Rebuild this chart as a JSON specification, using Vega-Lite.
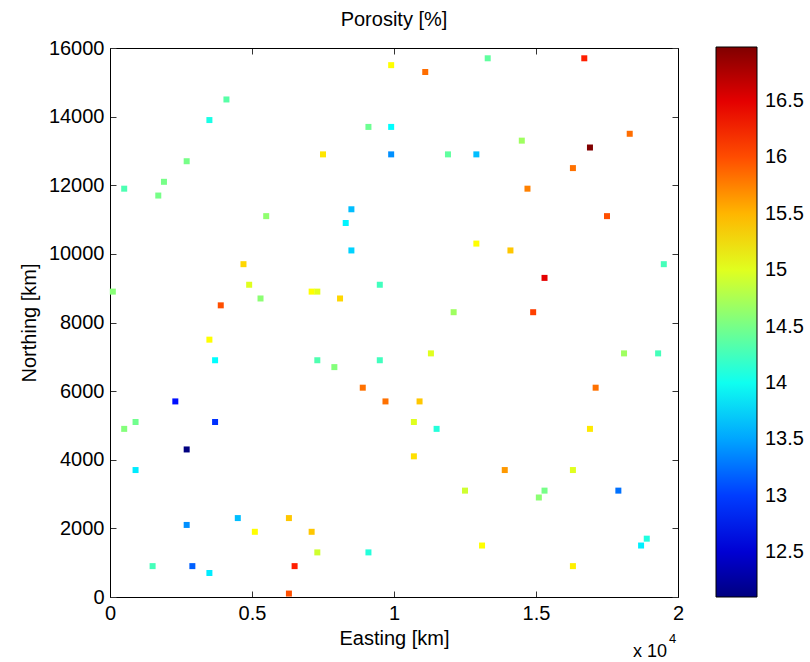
{
  "$schema": "https://vega.github.io/schema/vega-lite/v6.json",
  "autosize": "none",
  "width": 568,
  "height": 549,
  "padding": {"left": 110, "top": 48, "right": 132, "bottom": 65},
  "title": {"text": "Porosity [%]", "fontSize": 20, "fontWeight": "normal", "color": "#000", "offset": 8},
  "config": {
    "font": "Liberation Sans",
    "view": {"stroke": null},
    "axis": {
      "domainColor": "#000", "domainWidth": 1, "tickColor": "#333", "tickSize": -6, "tickWidth": 1,
      "labelFontSize": 20, "labelColor": "#000", "titleFontSize": 20, "titleFontWeight": "normal",
      "titleColor": "#000", "grid": false, "labelFlush": false, "labelOverlap": false, "labelPadding": 12
    }
  },
  "data": {"values": [
    {"easting": 9900, "northing": 15500, "porosity": 15.15},
    {"easting": 11100, "northing": 15300, "porosity": 15.85},
    {"easting": 13300, "northing": 15700, "porosity": 14.39},
    {"easting": 16700, "northing": 15700, "porosity": 16.22},
    {"easting": 4100, "northing": 14500, "porosity": 14.35},
    {"easting": 3500, "northing": 13900, "porosity": 14.05},
    {"easting": 9100, "northing": 13700, "porosity": 14.45},
    {"easting": 9900, "northing": 13700, "porosity": 13.93},
    {"easting": 14500, "northing": 13300, "porosity": 14.69},
    {"easting": 16900, "northing": 13100, "porosity": 16.98},
    {"easting": 18300, "northing": 13500, "porosity": 15.85},
    {"easting": 2700, "northing": 12700, "porosity": 14.5},
    {"easting": 7500, "northing": 12900, "porosity": 15.27},
    {"easting": 9900, "northing": 12900, "porosity": 13.4},
    {"easting": 11900, "northing": 12900, "porosity": 14.39},
    {"easting": 12900, "northing": 12900, "porosity": 13.62},
    {"easting": 16300, "northing": 12500, "porosity": 15.83},
    {"easting": 14700, "northing": 11900, "porosity": 15.76},
    {"easting": 17500, "northing": 11100, "porosity": 15.99},
    {"easting": 500, "northing": 11900, "porosity": 14.3},
    {"easting": 1900, "northing": 12100, "porosity": 14.5},
    {"easting": 1700, "northing": 11700, "porosity": 14.5},
    {"easting": 5500, "northing": 11100, "porosity": 14.62},
    {"easting": 8500, "northing": 11300, "porosity": 13.62},
    {"easting": 8300, "northing": 10900, "porosity": 13.88},
    {"easting": 8500, "northing": 10100, "porosity": 13.72},
    {"easting": 4700, "northing": 9700, "porosity": 15.34},
    {"easting": 4900, "northing": 9100, "porosity": 15.0},
    {"easting": 100, "northing": 8900, "porosity": 14.58},
    {"easting": 3900, "northing": 8500, "porosity": 15.99},
    {"easting": 5300, "northing": 8700, "porosity": 14.6},
    {"easting": 7100, "northing": 8900, "porosity": 15.15},
    {"easting": 7300, "northing": 8900, "porosity": 15.02},
    {"easting": 8100, "northing": 8700, "porosity": 15.34},
    {"easting": 9500, "northing": 9100, "porosity": 14.24},
    {"easting": 12900, "northing": 10300, "porosity": 15.15},
    {"easting": 14100, "northing": 10100, "porosity": 15.42},
    {"easting": 19500, "northing": 9700, "porosity": 14.26},
    {"easting": 15300, "northing": 9300, "porosity": 16.5},
    {"easting": 12100, "northing": 8300, "porosity": 14.69},
    {"easting": 14900, "northing": 8300, "porosity": 16.07},
    {"easting": 3500, "northing": 7500, "porosity": 15.15},
    {"easting": 3700, "northing": 6900, "porosity": 13.93},
    {"easting": 7300, "northing": 6900, "porosity": 14.31},
    {"easting": 7900, "northing": 6700, "porosity": 14.56},
    {"easting": 9500, "northing": 6900, "porosity": 14.24},
    {"easting": 8900, "northing": 6100, "porosity": 15.83},
    {"easting": 9700, "northing": 5700, "porosity": 15.83},
    {"easting": 2300, "northing": 5700, "porosity": 12.78},
    {"easting": 3700, "northing": 5100, "porosity": 12.94},
    {"easting": 500, "northing": 4900, "porosity": 14.56},
    {"easting": 900, "northing": 5100, "porosity": 14.47},
    {"easting": 2700, "northing": 4300, "porosity": 12.1},
    {"easting": 900, "northing": 3700, "porosity": 13.84},
    {"easting": 4500, "northing": 2300, "porosity": 13.62},
    {"easting": 2700, "northing": 2100, "porosity": 13.4},
    {"easting": 5100, "northing": 1900, "porosity": 15.15},
    {"easting": 6300, "northing": 2300, "porosity": 15.42},
    {"easting": 7100, "northing": 1900, "porosity": 15.42},
    {"easting": 7300, "northing": 1300, "porosity": 14.92},
    {"easting": 9100, "northing": 1300, "porosity": 14.1},
    {"easting": 1500, "northing": 900, "porosity": 14.26},
    {"easting": 2900, "northing": 900, "porosity": 13.17},
    {"easting": 3500, "northing": 700, "porosity": 13.84},
    {"easting": 6500, "northing": 900, "porosity": 16.22},
    {"easting": 6300, "northing": 100, "porosity": 15.99},
    {"easting": 11300, "northing": 7100, "porosity": 15.0},
    {"easting": 18100, "northing": 7100, "porosity": 14.69},
    {"easting": 19300, "northing": 7100, "porosity": 14.26},
    {"easting": 17100, "northing": 6100, "porosity": 15.83},
    {"easting": 10900, "northing": 5700, "porosity": 15.42},
    {"easting": 10700, "northing": 5100, "porosity": 15.0},
    {"easting": 11500, "northing": 4900, "porosity": 14.1},
    {"easting": 16900, "northing": 4900, "porosity": 15.25},
    {"easting": 10700, "northing": 4100, "porosity": 15.3},
    {"easting": 13900, "northing": 3700, "porosity": 15.64},
    {"easting": 16300, "northing": 3700, "porosity": 15.0},
    {"easting": 12500, "northing": 3100, "porosity": 14.92},
    {"easting": 15300, "northing": 3100, "porosity": 14.5},
    {"easting": 15100, "northing": 2900, "porosity": 14.6},
    {"easting": 17900, "northing": 3100, "porosity": 13.25},
    {"easting": 18900, "northing": 1700, "porosity": 14.08},
    {"easting": 18700, "northing": 1500, "porosity": 13.86},
    {"easting": 13100, "northing": 1500, "porosity": 15.15},
    {"easting": 16300, "northing": 900, "porosity": 15.22}
  ]},
  "layer": [
    {
      "mark": {"type": "square", "size": 36, "filled": true, "opacity": 1},
      "encoding": {
        "x": {"field": "easting", "type": "quantitative",
          "scale": {"domain": [0, 20000], "nice": false, "zero": false},
          "axis": {"orient": "bottom", "values": [0, 5000, 10000, 15000, 20000],
            "labelExpr": "datum.value/10000 + ''", "title": "Easting [km]", "titlePadding": 5}},
        "y": {"field": "northing", "type": "quantitative",
          "scale": {"domain": [0, 16000], "nice": false, "zero": false},
          "axis": {"orient": "left", "values": [0, 2000, 4000, 6000, 8000, 10000, 12000, 14000, 16000],
            "format": "d", "title": "Northing [km]", "titlePadding": 9}},
        "color": {"field": "porosity", "type": "quantitative",
          "scale": {"type": "linear", "domain": [12.1, 12.71, 13.93, 15.15, 16.37, 16.98],
            "range": ["#000080", "#0000ff", "#00ffff", "#ffff00", "#ff0000", "#800000"], "interpolate": "rgb"},
          "legend": {"orient": "none", "legendX": 606, "legendY": -1, "direction": "vertical",
            "gradientLength": 550, "gradientThickness": 41, "title": null,
            "values": [12.5, 13, 13.5, 14, 14.5, 15, 15.5, 16, 16.5], "format": "~g",
            "labelFontSize": 20, "labelColor": "#000", "labelOffset": 8, "labelOverlap": false,
            "gradientStrokeColor": "#000", "gradientStrokeWidth": 1}}
      }
    },
    {
      "data": {"values": [{"easting": 20000, "northing": 0}]},
      "mark": {"type": "text", "text": "x 10", "align": "right", "baseline": "alphabetic", "dx": -11, "dy": 60, "fontSize": 18, "color": "#000"},
      "encoding": {
        "x": {"field": "easting", "type": "quantitative",
          "scale": {"domain": [0, 20000], "nice": false, "zero": false},
          "axis": {"orient": "top", "values": [0, 5000, 10000, 15000, 20000], "labels": false, "title": null}},
        "y": {"field": "northing", "type": "quantitative",
          "scale": {"domain": [0, 16000], "nice": false, "zero": false},
          "axis": {"orient": "right", "values": [0, 2000, 4000, 6000, 8000, 10000, 12000, 14000, 16000], "labels": false, "title": null}}
      }
    },
    {
      "data": {"values": [{"easting": 20000, "northing": 0}]},
      "mark": {"type": "text", "text": "4", "align": "left", "baseline": "alphabetic", "dx": -9, "dy": 46, "fontSize": 13, "color": "#000"},
      "encoding": {
        "x": {"field": "easting", "type": "quantitative", "scale": {"domain": [0, 20000], "nice": false, "zero": false}, "axis": null},
        "y": {"field": "northing", "type": "quantitative", "scale": {"domain": [0, 16000], "nice": false, "zero": false}, "axis": null}
      }
    }
  ],
  "resolve": {"axis": {"x": "independent", "y": "independent"}}
}
